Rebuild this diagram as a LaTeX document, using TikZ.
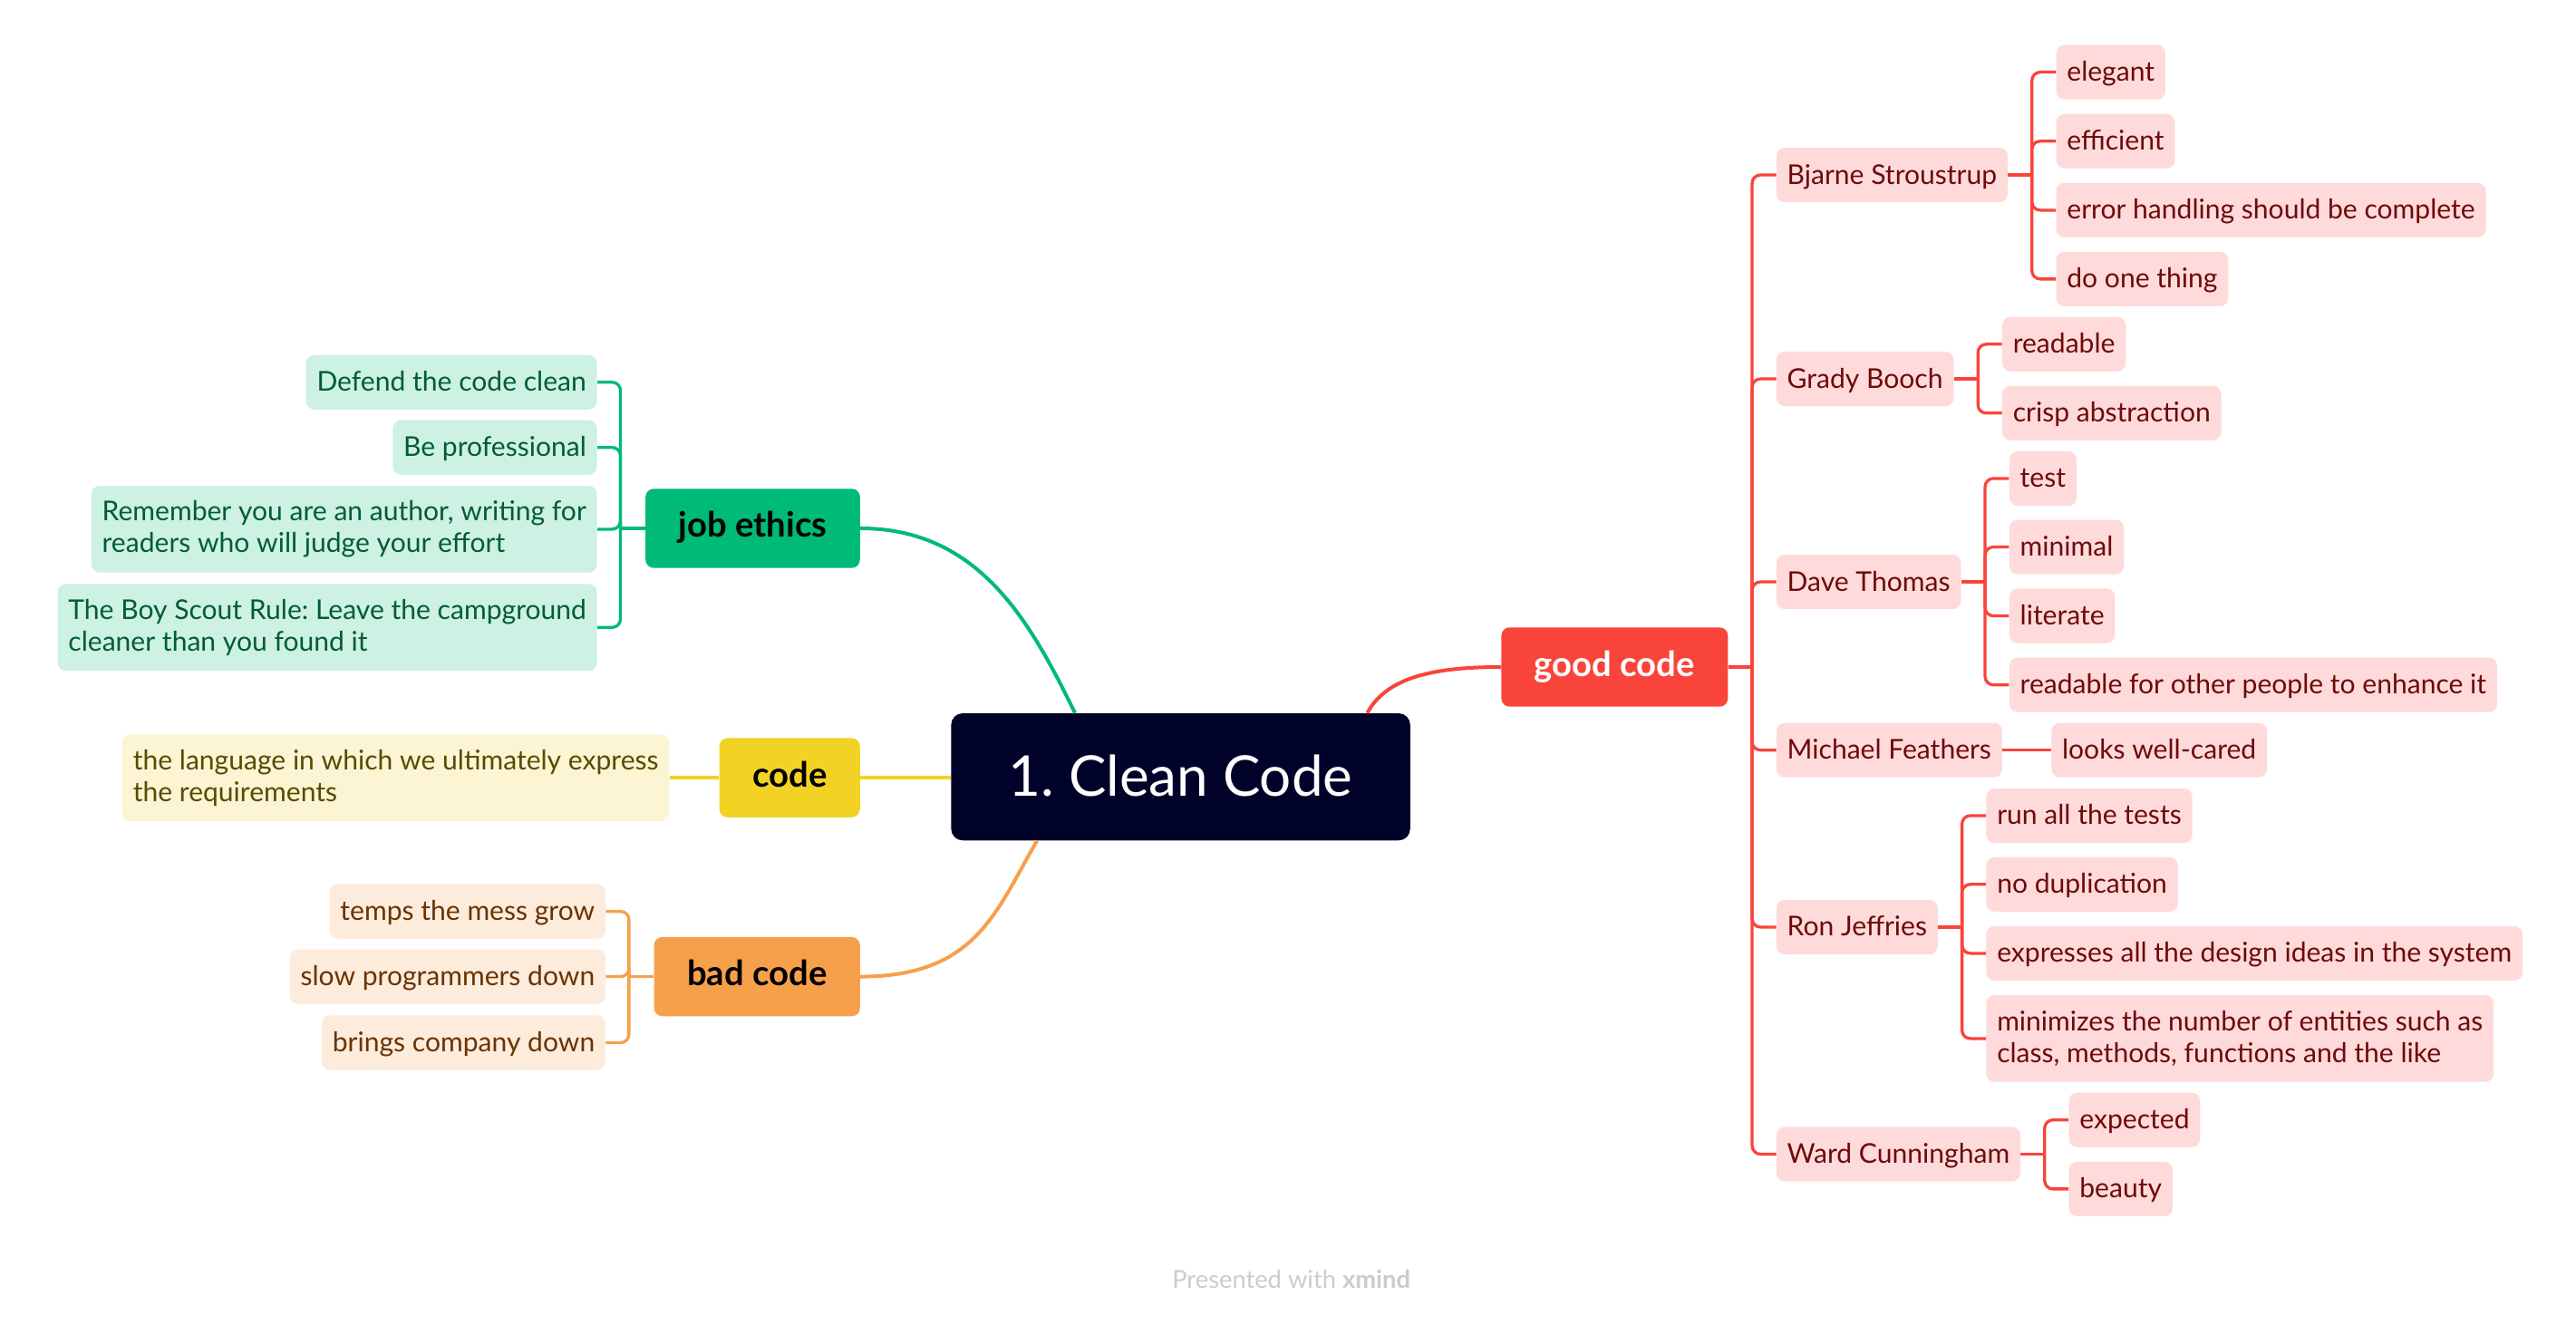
\documentclass[tikz,border=0pt]{standalone}
\usepackage{fontspec}
\setmainfont{Lato}
\frenchspacing
\definecolor{rootbg}{HTML}{000229}
\definecolor{goodred}{HTML}{F9443B}
\definecolor{goodpale}{HTML}{FFDADA}
\definecolor{goodtext}{HTML}{6E0A0A}
\definecolor{ethgreen}{HTML}{00BA78}
\definecolor{ethpale}{HTML}{CDF1E3}
\definecolor{ethtext}{HTML}{005C36}
\definecolor{codeyellow}{HTML}{F2D324}
\definecolor{codepale}{HTML}{FCF5D4}
\definecolor{codetext}{HTML}{5A4A00}
\definecolor{badorange}{HTML}{F7A04C}
\definecolor{badpale}{HTML}{FDEBDC}
\definecolor{badtext}{HTML}{6A3300}
\definecolor{creditgray}{HTML}{CCCCCC}
\begin{document}
\begin{tikzpicture}[x=1pt, y=-1pt,
        root/.style={fill=rootbg, text=white, rounded corners=7pt, minimum width=278pt, minimum height=77pt,
            text height=26pt, text depth=3pt, font=\fontsize{34}{40}\selectfont},
        branch/.style={rounded corners=5pt, inner xsep=20pt, inner ysep=0pt, minimum height=48pt,
            text height=15pt, text depth=4pt, font=\fontsize{21}{25}\selectfont\bfseries},
        leaf/.style={rounded corners=5pt, inner xsep=6.5pt, inner ysep=0pt, minimum height=33pt,
            text height=12pt, text depth=1pt, font=\fontsize{16.5}{19.2}\selectfont},
        twoline/.style={rounded corners=5pt, inner xsep=6.5pt, inner ysep=0pt, minimum height=52.5pt,
            align=left, font=\fontsize{16.5}{19.2}\selectfont},
        ethleaf/.style={fill=ethpale, text=ethtext},
        codeleaf/.style={fill=codepale, text=codetext},
        badleaf/.style={fill=badpale, text=badtext},
        goodleaf/.style={fill=goodpale, text=goodtext},
        mainline/.style={line width=2.2pt},
        ethline/.style={draw=ethgreen, line width=1.8pt},
        codeline/.style={draw=codeyellow, line width=1.8pt},
        badline/.style={draw=badorange, line width=1.8pt},
        goodline/.style={draw=goodred, line width=1.8pt}
    ]
    \fill[white] (0,0) rectangle (1560,802.5);
    \useasboundingbox (0,0) rectangle (1560,802.5);

    % centre and main branches
    \node[root] (cc) at (715,470.5) {1. Clean Code};
    \node[branch, fill=ethgreen, anchor=east] (je) at (521,320) {job ethics};
    \node[branch, fill=codeyellow, anchor=east] (cd) at (521,471) {code};
    \node[branch, fill=badorange, anchor=east] (bc) at (521,591.5) {bad code};
    \node[branch, fill=goodred, text=white, anchor=west] (gc) at (909,404) {good code};

    \draw[mainline, draw=ethgreen] (je.east) .. controls +(72,0) and +(-27,-55) .. ([xshift=-64pt]cc.north);
    \draw[mainline, draw=codeyellow] (cd.east) -- (cd.east -| cc.west);
    \draw[mainline, draw=badorange] (bc.east) .. controls +(70,0) and +(-25,43) .. ([xshift=-87pt]cc.south);
    \draw[mainline, draw=goodred] ([xshift=113pt]cc.north) .. controls +(12,-22) and +(-40,0) .. (gc.west);

    % job ethics
    \node[leaf, ethleaf, anchor=east, xshift=-29pt] (je1) at (je.west |- 0,231.5) {Defend the code clean};
    \node[leaf, ethleaf, anchor=east, xshift=-29pt] (je2) at (je.west |- 0,271) {Be professional};
    \node[twoline, ethleaf, anchor=east, xshift=-29pt] (je3) at (je.west |- 0,320.5)
        {Remember you are an author, writing for\\readers who will judge your effort};
    \node[twoline, ethleaf, anchor=east, xshift=-29pt] (je4) at (je.west |- 0,380)
        {The Boy Scout Rule: Leave the campground\\cleaner than you found it};
    \draw[ethline] (je.west) -- ++(-15,0) coordinate (jeS);
    \foreach \n in {je1,je2,je3,je4}
        \draw[ethline, rounded corners=5pt] (jeS) |- (\n.east);

    % code
    \node[twoline, codeleaf, anchor=east, xshift=-30pt] (cd1) at (cd.west |- 0,471)
        {the language in which we ultimately express\\the requirements};
    \draw[codeline] (cd.west) -- (cd1.east);

    % bad code
    \node[leaf, badleaf, anchor=east, xshift=-29pt] (bc1) at (bc.west |- 0,552) {temps the mess grow};
    \node[leaf, badleaf, anchor=east, xshift=-29pt] (bc2) at (bc.west |- 0,591.5) {slow programmers down};
    \node[leaf, badleaf, anchor=east, xshift=-29pt] (bc3) at (bc.west |- 0,631.5) {brings company down};
    \draw[badline] (bc.west) -- ++(-15,0) coordinate (bcS);
    \foreach \n in {bc1,bc2,bc3}
        \draw[badline, rounded corners=5pt] (bcS) |- (\n.east);

    % good code: people
    \node[leaf, goodleaf, anchor=west, xshift=29pt] (bs) at (gc.east |- 0,106) {Bjarne Stroustrup};
    \node[leaf, goodleaf, anchor=west, xshift=29pt] (gb) at (gc.east |- 0,229.5) {Grady Booch};
    \node[leaf, goodleaf, anchor=west, xshift=29pt] (dt) at (gc.east |- 0,352.4) {Dave Thomas};
    \node[leaf, goodleaf, anchor=west, xshift=29pt] (mf) at (gc.east |- 0,454.3) {Michael Feathers};
    \node[leaf, goodleaf, anchor=west, xshift=29pt] (rj) at (gc.east |- 0,561.5) {Ron Jeffries};
    \node[leaf, goodleaf, anchor=west, xshift=29pt] (wc) at (gc.east |- 0,699) {Ward Cunningham};
    \draw[goodline] (gc.east) -- ++(14.5,0) coordinate (gcS);
    \foreach \n in {bs,gb,dt,mf,rj,wc}
        \draw[goodline, rounded corners=5pt] (gcS) |- (\n.west);

    % Bjarne Stroustrup
    \node[leaf, goodleaf, anchor=west, xshift=29pt] (bs1) at (bs.east |- 0,43.7) {elegant};
    \node[leaf, goodleaf, anchor=west, xshift=29pt] (bs2) at (bs.east |- 0,85.5) {efficient};
    \node[leaf, goodleaf, anchor=west, xshift=29pt] (bs3) at (bs.east |- 0,127.3) {error handling should be complete};
    \node[leaf, goodleaf, anchor=west, xshift=29pt] (bs4) at (bs.east |- 0,169) {do one thing};
    \draw[goodline] (bs.east) -- ++(14.5,0) coordinate (bsS);
    \foreach \n in {bs1,bs2,bs3,bs4}
        \draw[goodline, rounded corners=5pt] (bsS) |- (\n.west);

    % Grady Booch
    \node[leaf, goodleaf, anchor=west, xshift=29pt] (gb1) at (gb.east |- 0,208.5) {readable};
    \node[leaf, goodleaf, anchor=west, xshift=29pt] (gb2) at (gb.east |- 0,250.2) {crisp abstraction};
    \draw[goodline] (gb.east) -- ++(14.5,0) coordinate (gbS);
    \foreach \n in {gb1,gb2}
        \draw[goodline, rounded corners=5pt] (gbS) |- (\n.west);

    % Dave Thomas
    \node[leaf, goodleaf, anchor=west, xshift=29pt] (dt1) at (dt.east |- 0,289.8) {test};
    \node[leaf, goodleaf, anchor=west, xshift=29pt] (dt2) at (dt.east |- 0,331.3) {minimal};
    \node[leaf, goodleaf, anchor=west, xshift=29pt] (dt3) at (dt.east |- 0,373) {literate};
    \node[leaf, goodleaf, anchor=west, xshift=29pt] (dt4) at (dt.east |- 0,414.8) {readable for other people to enhance it};
    \draw[goodline] (dt.east) -- ++(14.5,0) coordinate (dtS);
    \foreach \n in {dt1,dt2,dt3,dt4}
        \draw[goodline, rounded corners=5pt] (dtS) |- (\n.west);

    % Michael Feathers
    \node[leaf, goodleaf, anchor=west, xshift=29.5pt] (mf1) at (mf.east |- 0,454.3) {looks well-cared};
    \draw[goodline] (mf.east) -- (mf1.west);

    % Ron Jeffries
    \node[leaf, goodleaf, anchor=west, xshift=29pt] (rj1) at (rj.east |- 0,494) {run all the tests};
    \node[leaf, goodleaf, anchor=west, xshift=29pt] (rj2) at (rj.east |- 0,535.6) {no duplication};
    \node[leaf, goodleaf, anchor=west, xshift=29pt] (rj3) at (rj.east |- 0,577.4) {expresses all the design ideas in the system};
    \node[twoline, goodleaf, anchor=west, xshift=29pt] (rj4) at (rj.east |- 0,629)
        {minimizes the number of entities such as\\class, methods, functions and the like};
    \draw[goodline] (rj.east) -- ++(14.5,0) coordinate (rjS);
    \foreach \n in {rj1,rj2,rj3,rj4}
        \draw[goodline, rounded corners=5pt] (rjS) |- (\n.west);

    % Ward Cunningham
    \node[leaf, goodleaf, anchor=west, xshift=29pt] (wc1) at (wc.east |- 0,678.3) {expected};
    \node[leaf, goodleaf, anchor=west, xshift=29pt] (wc2) at (wc.east |- 0,720.1) {beauty};
    \draw[goodline] (wc.east) -- ++(14.5,0) coordinate (wcS);
    \foreach \n in {wc1,wc2}
        \draw[goodline, rounded corners=5pt] (wcS) |- (\n.west);

    \node[anchor=base, text=creditgray, font=\fontsize{15}{18}\selectfont] (credit) at (782,780.5)
        {Presented with \textbf{xmind}};
\end{tikzpicture}
\end{document}
